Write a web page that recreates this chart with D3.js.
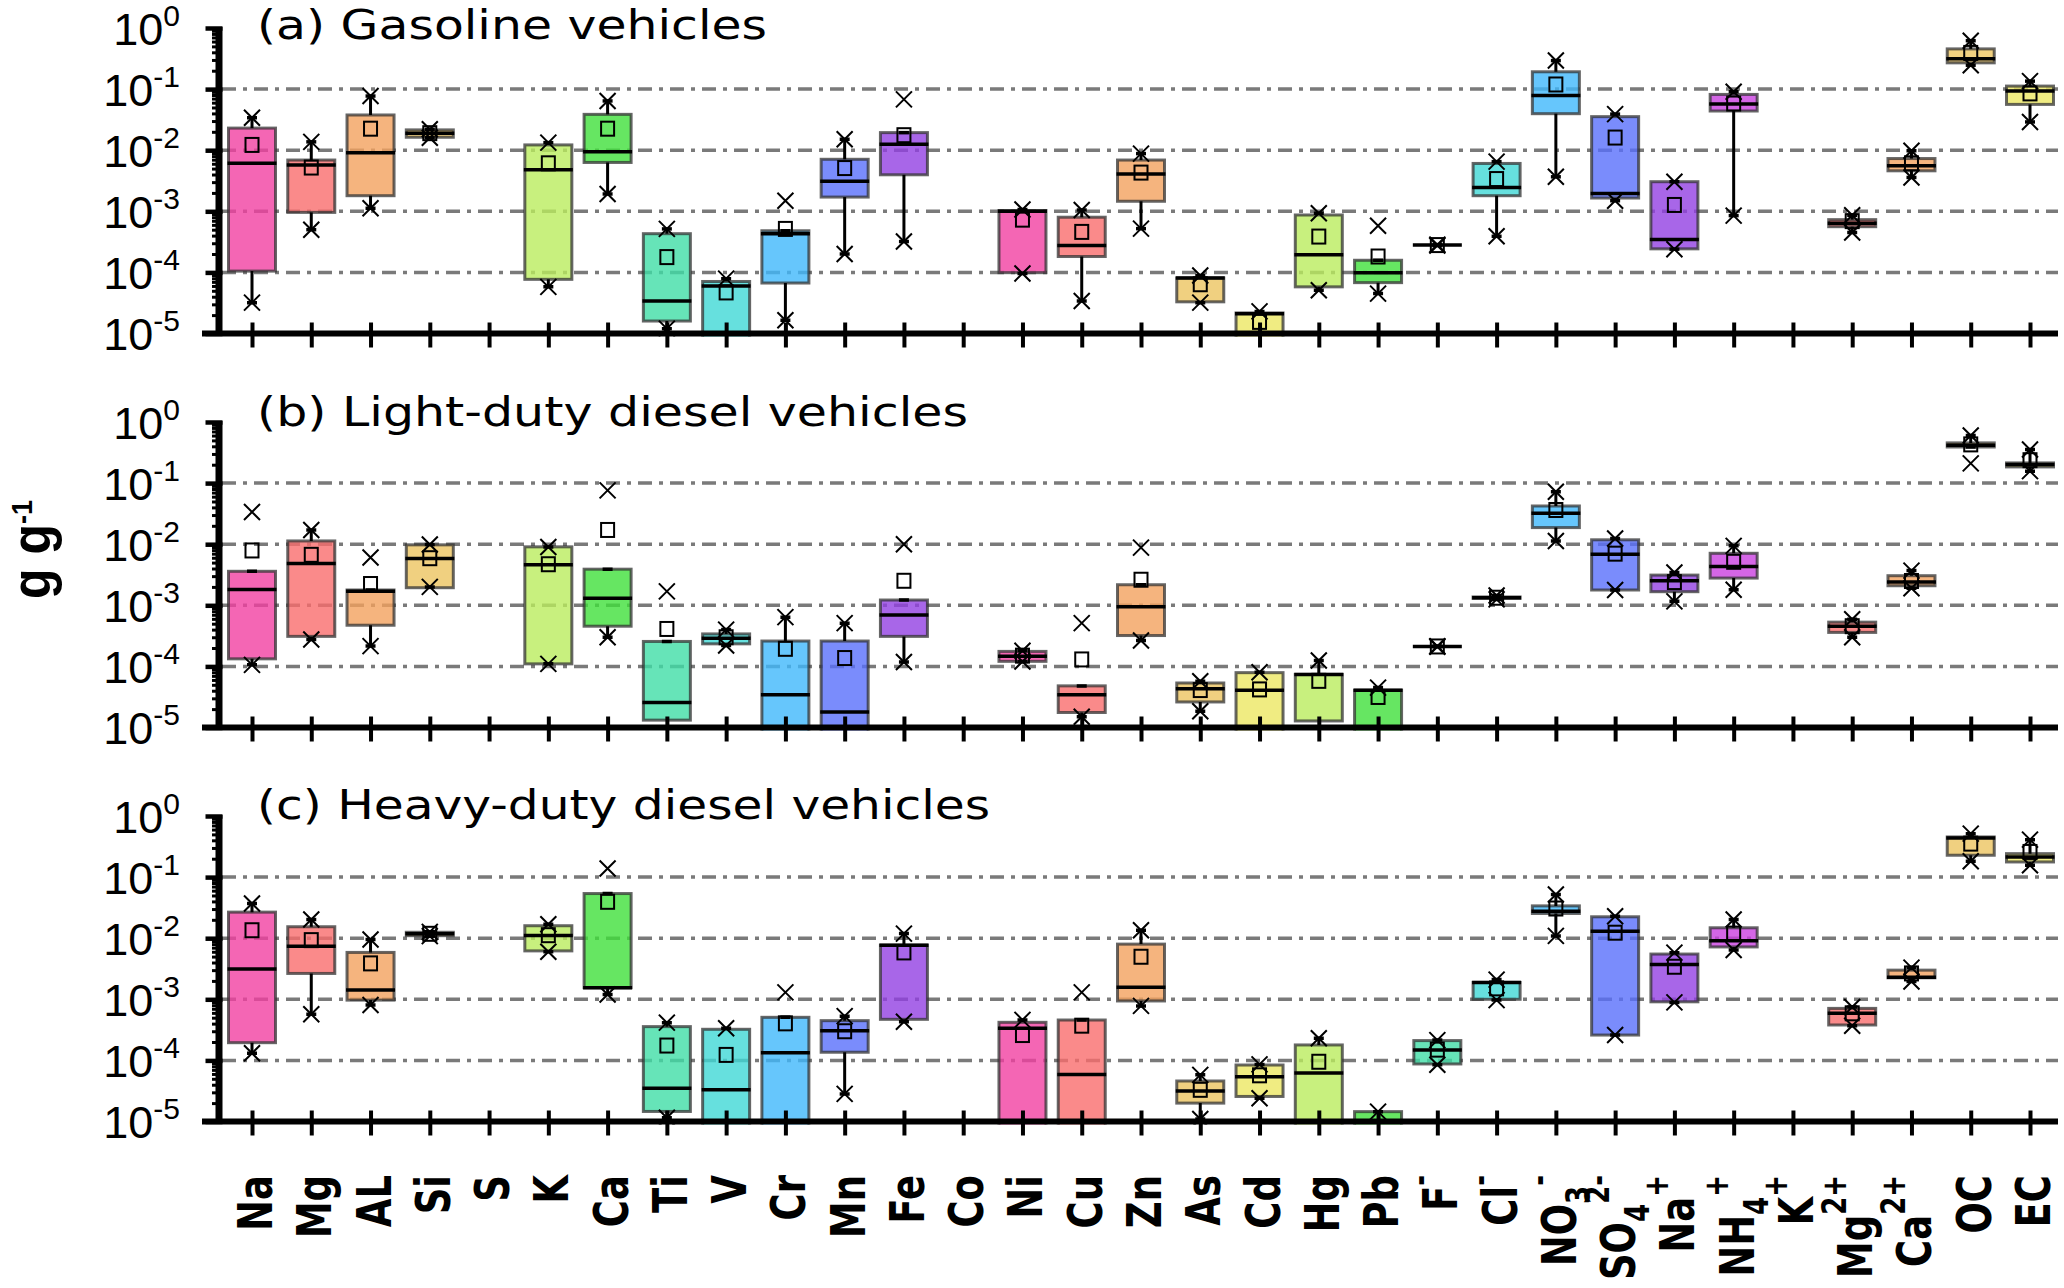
<!DOCTYPE html>
<html>
<head>
<meta charset="utf-8">
<script src="https://cdn.jsdelivr.net/npm/d3@7"></script>
<style>
  body { margin: 0; background: #fff; }
  svg { display: block; }
</style>
</head>
<body>
<svg id="chart" width="2064" height="1288"></svg>
<script>
// species along the x axis
const categories = ["Na","Mg","AL","Si","S","K","Ca","Ti","V","Cr","Mn","Fe","Co","Ni","Cu","Zn","As","Cd","Hg","Pb",
  "F-","Cl-","NO3-","SO42-","Na+","NH4+","K+","Mg2+","Ca2+","OC","EC"];
const labelMain = ["Na","Mg","AL","Si","S","K","Ca","Ti","V","Cr","Mn","Fe","Co","Ni","Cu","Zn","As","Cd","Hg","Pb",
  "F","Cl","NO","SO","Na","NH","K","Mg","Ca","OC","EC"];
const labelSub = ["","","","","","","","","","","","","","","","","","","","","","","3","4","","4","","","","",""];
const labelSup = ["","","","","","","","","","","","","","","","","","","","","-","-","-","2-","+","+","+","2+","2+","",""];

const panelTitles = ["(a) Gasoline vehicles", "(b) Light-duty diesel vehicles", "(c) Heavy-duty diesel vehicles"];
const decades = [1, 1e-1, 1e-2, 1e-3, 1e-4, 1e-5];
const decadeLabels = ["0", "-1", "-2", "-3", "-4", "-5"];
const gridValues = [1e-1, 1e-2, 1e-3, 1e-4];

// (a) gasoline vehicles
const gasQ1 = [1.05e-4, 9.6e-4, 1.8e-3, 0.0163, null, 7.7e-5, 6.3e-3, 1.6e-5, 5e-6, 6.7e-5, 1.71e-3, 3.96e-3, null, 9.9e-5, 1.82e-4, 1.46e-3, 3.3e-5, 5e-6, 5.8e-5, 6.8e-5, 2.8e-4, 1.8e-3, 0.0396, 1.65e-3, 2.43e-4, 0.0438, null, 5.6e-4, 4.6e-3, 0.269, 0.0562];
const gasMed = [6.1e-3, 5.7e-3, 9.05e-3, 0.0189, null, 4.8e-3, 9.4e-3, 3.4e-5, 6e-5, 4.3e-4, 3.09e-3, 0.0125, null, 1.0e-3, 2.75e-4, 4.06e-3, 8.1e-5, 2.1e-5, 1.94e-4, 9.9e-5, 2.8e-4, 2.46e-3, 0.0788, 1.96e-3, 3.45e-4, 0.0569, null, 6.4e-4, 5.55e-3, 0.313, 0.0927];
const gasQ3 = [0.023, 6.9e-3, 0.0377, 0.0215, null, 0.0122, 0.0386, 4.3e-4, 7.1e-5, 4.8e-4, 7.1e-3, 0.0194, null, 1.03e-3, 8e-4, 6.9e-3, 8.1e-5, 2.17e-5, 8.7e-4, 1.58e-4, 2.8e-4, 6.07e-3, 0.192, 0.0354, 3.05e-3, 0.0818, null, 7.3e-4, 7.3e-3, 0.455, 0.112];
const gasMean = [0.0122, 5.2e-3, 0.0225, 0.019, null, 6.1e-3, 0.0225, 1.78e-4, 4.7e-5, 5.15e-4, 5.1e-3, 0.0176, null, 7.3e-4, 4.6e-4, 4.3e-3, 6.4e-5, 1.55e-5, 3.86e-4, 1.82e-4, 2.8e-4, 3.37e-3, 0.119, 0.0161, 1.27e-3, 0.058, null, 6.9e-4, 6.1e-3, 0.391, 0.085];
const gasMin = [3.2e-5, 5e-4, 1.12e-3, 0.016, null, 5.8e-5, 1.92e-3, 1.2e-5, null, 1.65e-5, 2.0e-4, 3.2e-4, null, 9.6e-5, 3.4e-5, 5.2e-4, 3.2e-5, null, 5.1e-5, 4.5e-5, 2.75e-4, 3.9e-4, 3.67e-3, 1.49e-3, 2.4e-4, 8.5e-4, null, 4.5e-4, 3.58e-3, 0.246, 0.029];
const gasMax = [0.034, 0.0137, 0.077, 0.022, null, 0.0133, 0.064, 5.15e-4, 7.9e-5, 1.49e-3, 0.0151, 0.068, null, 1.07e-3, 1.05e-3, 8.8e-3, 8.9e-5, 2.3e-5, 9.3e-4, 5.8e-4, 2.85e-4, 6.5e-3, 0.293, 0.039, 3.05e-3, 0.0905, null, 8.6e-4, 9.8e-3, 0.62, 0.135];
const gasOutHi = ["Cr", "Fe", "Pb"];
const gasOutLo = [];

// (b) light-duty diesel vehicles
const ldvQ1 = [1.33e-4, 3.1e-4, 4.72e-4, 1.94e-3, null, 1.1e-4, 4.55e-4, 1.32e-5, 2.34e-4, 5e-6, 5e-6, 3.1e-4, null, 1.21e-4, 1.76e-5, 3.2e-4, 2.62e-5, 5e-6, 1.28e-5, 5e-6, 2.12e-4, 1.3e-3, 0.0187, 1.78e-3, 1.67e-3, 2.79e-3, null, 3.6e-4, 2.09e-3, 0.39, 0.184];
const ldvMed = [1.82e-3, 4.84e-3, 1.7e-3, 5.83e-3, null, 4.6e-3, 1.3e-3, 2.56e-5, 2.9e-4, 3.45e-5, 1.8e-5, 6.95e-4, null, 1.46e-4, 3.45e-5, 9.5e-4, 4.3e-5, 4.06e-5, 7.4e-5, 4.07e-5, 2.12e-4, 1.33e-3, 0.032, 6.87e-3, 2.52e-3, 4.3e-3, null, 4.55e-4, 2.4e-3, 0.417, 0.201];
const ldvQ3 = [3.6e-3, 0.0113, 1.78e-3, 9.76e-3, null, 9.05e-3, 3.9e-3, 2.56e-4, 3.4e-4, 2.6e-4, 2.6e-4, 1.22e-3, null, 1.76e-4, 4.8e-5, 2.17e-3, 5.35e-5, 7.9e-5, 7.4e-5, 4.07e-5, 2.12e-4, 1.37e-3, 0.0422, 0.0118, 3.12e-3, 7.1e-3, null, 5.3e-4, 3.05e-3, 0.455, 0.214];
const ldvMean = [7.9e-3, 6.7e-3, 2.23e-3, 5.9e-3, null, 4.7e-3, 0.0171, 4.1e-4, 3.0e-4, 1.94e-4, 1.37e-4, 2.52e-3, null, 1.5e-4, 1.3e-4, 2.62e-3, 4.1e-5, 4.2e-5, 5.8e-5, 3.16e-5, 2.12e-4, 1.33e-3, 0.0363, 7e-3, 2.4e-3, 5.15e-3, null, 4.55e-4, 2.5e-3, 0.43, 0.237];
const ldvMin = [1.06e-4, 2.75e-4, 2.15e-4, 2e-3, null, 1.1e-4, 3.0e-4, null, 2.2e-4, null, null, 1.18e-4, null, 1.2e-4, 1.5e-5, 2.65e-4, 1.85e-5, null, null, null, 2.1e-4, 1.25e-3, 0.0113, 1.78e-3, 1.16e-3, 1.8e-3, null, 3.0e-4, 1.9e-3, 0.21, 0.157];
const ldvMax = [0.0337, 0.0171, 6.07e-3, 9.9e-3, null, 9e-3, 0.076, 1.69e-3, 4.0e-4, 6.4e-4, 5.1e-4, 0.01, null, 1.8e-4, 5.1e-4, 8.8e-3, 5.7e-5, 8e-5, 1.25e-4, 4.5e-5, 2.15e-4, 1.45e-3, 0.072, 0.0124, 3.45e-3, 9.4e-3, null, 5.9e-4, 3.7e-3, 0.6, 0.354];
const ldvOutHi = ["Na", "AL", "Ca", "Ti", "Fe", "Cu", "Zn"];
const ldvOutLo = ["OC"];

// (c) heavy-duty diesel vehicles
const hdvQ1 = [1.95e-4, 2.65e-3, 9.7e-4, 0.011, null, 6.2e-3, 1.55e-3, 1.46e-5, 5e-6, 5e-6, 1.36e-4, 4.7e-4, null, 5e-6, 5e-6, 9.4e-4, 2e-5, 2.57e-5, 5e-6, 5e-6, 8.75e-5, 1.0e-3, 0.0254, 2.6e-4, 9.1e-4, 7.2e-3, null, 3.8e-4, 2.25e-3, 0.228, 0.177];
const hdvMed = [3.12e-3, 7.4e-3, 1.42e-3, 0.0118, null, 0.0111, 1.55e-3, 3.5e-5, 3.3e-5, 1.34e-4, 3.07e-4, 7.7e-3, null, 3.35e-4, 5.9e-5, 1.57e-3, 3.17e-5, 5.4e-5, 6.2e-5, null, 1.48e-4, 1.89e-3, 0.0277, 0.013, 3.72e-3, 9.06e-3, null, 5.9e-4, 2.3e-3, 0.437, 0.214];
const hdvQ3 = [0.0267, 0.0154, 5.85e-3, 0.0125, null, 0.016, 0.0538, 3.57e-4, 3.23e-4, 5.07e-4, 4.47e-4, 7.7e-3, null, 4.2e-4, 4.58e-4, 8e-3, 4.6e-5, 8.4e-5, 1.79e-4, 1.45e-5, 2.11e-4, 1.89e-3, 0.0338, 0.0224, 5.5e-3, 0.0148, null, 7.1e-4, 3.0e-3, 0.454, 0.242];
const hdvMean = [0.0135, 9.3e-3, 3.87e-3, 0.0118, null, 0.0112, 0.0394, 1.75e-4, 1.23e-4, 4.04e-4, 3e-4, 5.85e-3, null, 2.6e-4, 3.7e-4, 4.97e-3, 3.3e-5, 5.7e-5, 9.5e-5, null, 1.5e-4, 1.51e-3, 0.0306, 0.0123, 3.41e-3, 0.0119, null, 5.9e-4, 2.65e-3, 0.353, 0.258];
const hdvMin = [1.31e-4, 5.7e-4, 8.05e-4, 0.0108, null, 6.0e-3, 1.2e-3, 1.15e-5, null, null, 2.83e-5, 4.3e-4, null, null, null, 7.8e-4, 1.1e-5, 2.4e-5, null, null, 8.5e-5, 9.7e-4, 0.0109, 2.6e-4, 8.9e-4, 6.4e-3, null, 3.7e-4, 1.95e-3, 0.182, 0.156];
const hdvMax = [0.037, 0.0202, 9.5e-3, 0.0127, null, 0.0169, 0.138, 4.15e-4, 3.35e-4, 1.3e-3, 5.3e-4, 0.0119, null, 4.6e-4, 1.3e-3, 0.0135, 5.8e-5, 8.6e-5, 2.3e-4, 1.45e-5, 2.15e-4, 2.1e-3, 0.0519, 0.0229, 5.8e-3, 0.0202, null, 7.5e-4, 3.3e-3, 0.514, 0.41];
const hdvOutHi = ["Ca", "Cr", "Cu"];
const hdvOutLo = [];

// box colours repeat every 13 species
const palette = ["#f466b4", "#fa8a8a", "#f5b47e", "#f0d080", "#f0ec82", "#c8f07e", "#66e662",
  "#66e4b8", "#66e0de", "#66c6fc", "#7a8cfc", "#a866e8", "#d466e6"];

const panels = [
  {q1: gasQ1, med: gasMed, q3: gasQ3, mean: gasMean, min: gasMin, max: gasMax, outHi: gasOutHi, outLo: gasOutLo},
  {q1: ldvQ1, med: ldvMed, q3: ldvQ3, mean: ldvMean, min: ldvMin, max: ldvMax, outHi: ldvOutHi, outLo: ldvOutLo},
  {q1: hdvQ1, med: hdvMed, q3: hdvQ3, mean: hdvMean, min: hdvMin, max: hdvMax, outHi: hdvOutHi, outLo: hdvOutLo}
];

// layout
const axisX = 219, axisRight = 2058;
const panelTop = [28, 422, 816], panelH = 305.5;
const titleWidth = [510, 711, 733];
const boxW = 47, fillAlpha = 0.8;

const svg = d3.select("#chart");
const x = d3.scalePoint().domain(categories).range([252, 2030]);

// undo the white blend so the translucent box shows the observed colour
function boxFill(c) {
  let o = d3.rgb(c);
  let f = v => Math.max(0, Math.min(255, (v - 255 * (1 - fillAlpha)) / fillAlpha));
  return d3.rgb(f(o.r), f(o.g), f(o.b)).formatHex();
}

panels.forEach(function(p, pi) {
  let top = panelTop[pi], bottom = top + panelH;
  let y = d3.scaleLog().domain([1e-5, 1]).range([bottom, top]);
  let g = svg.append("g");

  let clipId = "clip" + pi;
  svg.append("clipPath").attr("id", clipId)
    .append("rect")
      .attr("x", axisX).attr("y", top - 40)
      .attr("width", axisRight - axisX).attr("height", panelH + 43);

  // dash-dot grid
  g.append("g").selectAll("line")
    .data(gridValues)
    .join("line")
      .attr("x1", axisX + 3).attr("x2", axisRight)
      .attr("y1", d => y(d)).attr("y2", d => y(d))
      .attr("stroke", "#7a7a7a").attr("stroke-width", 3.5)
      .attr("stroke-dasharray", "14,7,4,7");

  let rows = categories.map((c, i) => ({
    c: c, i: i, q1: p.q1[i], med: p.med[i], q3: p.q3[i], mean: p.mean[i], min: p.min[i], max: p.max[i]
  })).filter(d => d.q3 != null);

  let plot = g.append("g").attr("clip-path", "url(#" + clipId + ")");

  // boxes
  plot.selectAll("rect.box")
    .data(rows)
    .join("rect")
      .attr("class", "box")
      .attr("x", d => x(d.c) - boxW / 2)
      .attr("y", d => y(d.q3))
      .attr("width", boxW)
      .attr("height", d => Math.max(0, y(d.q1) - y(d.q3)))
      .attr("fill", d => boxFill(palette[d.i % palette.length]))
      .attr("fill-opacity", fillAlpha)
      .attr("stroke", "#333").attr("stroke-opacity", 0.75).attr("stroke-width", 3);

  // whiskers: to the extreme marker, or only a cap at the box edge if the marker lies apart
  let whiskers = [];
  rows.forEach(function(d) {
    if (d.max != null) {
      let end = p.outHi.includes(d.c) ? d.q3 : d.max;
      whiskers.push({c: d.c, from: d.q3, to: end});
    }
    if (d.min != null) {
      let end = p.outLo.includes(d.c) ? d.q1 : d.min;
      whiskers.push({c: d.c, from: d.q1, to: end});
    }
  });
  plot.selectAll("line.whisker")
    .data(whiskers)
    .join("line")
      .attr("class", "whisker")
      .attr("x1", d => x(d.c)).attr("x2", d => x(d.c))
      .attr("y1", d => y(d.from)).attr("y2", d => y(d.to))
      .attr("stroke", "#000").attr("stroke-width", 3);
  plot.selectAll("line.cap")
    .data(whiskers)
    .join("line")
      .attr("class", "cap")
      .attr("x1", d => x(d.c) - 5).attr("x2", d => x(d.c) + 5)
      .attr("y1", d => y(d.to)).attr("y2", d => y(d.to))
      .attr("stroke", "#000").attr("stroke-width", 3.5);

  // medians
  plot.selectAll("line.median")
    .data(rows.filter(d => d.med != null))
    .join("line")
      .attr("class", "median")
      .attr("x1", d => x(d.c) - boxW / 2 - 1).attr("x2", d => x(d.c) + boxW / 2 + 1)
      .attr("y1", d => y(d.med)).attr("y2", d => y(d.med))
      .attr("stroke", "#000").attr("stroke-width", 3.5);

  // means
  plot.selectAll("rect.mean")
    .data(rows.filter(d => d.mean != null))
    .join("rect")
      .attr("class", "mean")
      .attr("x", d => x(d.c) - 6.5).attr("y", d => y(d.mean) - 7)
      .attr("width", 13).attr("height", 14)
      .attr("fill", "none").attr("stroke", "#000").attr("stroke-width", 2);

  // min / max crosses
  let extremes = [];
  rows.forEach(function(d) {
    if (d.max != null) extremes.push({c: d.c, v: d.max});
    if (d.min != null) extremes.push({c: d.c, v: d.min});
  });
  plot.selectAll("path.extreme")
    .data(extremes)
    .join("path")
      .attr("class", "extreme")
      .attr("transform", d => "translate(" + x(d.c) + "," + y(d.v) + ")")
      .attr("d", "M-8,-8L8,8M-8,8L8,-8")
      .attr("fill", "none").attr("stroke", "#000").attr("stroke-width", 2);

  // y axis: decade ticks, minor ticks, own thick spine
  let minors = [];
  for (let e = -5; e < 0; e++) {
    for (let m = 2; m <= 9; m++) minors.push(m * Math.pow(10, e));
  }
  let yMajor = g.append("g")
    .attr("transform", "translate(" + (axisX + 3.5) + ",0)")
    .call(d3.axisLeft(y).tickValues(decades).tickSize(17).tickSizeOuter(0).tickFormat(""));
  yMajor.select(".domain").remove();
  yMajor.selectAll(".tick line").attr("stroke", "#000").attr("stroke-width", 4.5);

  let yMinor = g.append("g")
    .attr("transform", "translate(" + (axisX + 1) + ",0)")
    .call(d3.axisLeft(y).tickValues(minors).tickSize(8).tickSizeOuter(0).tickFormat(""));
  yMinor.select(".domain").remove();
  yMinor.selectAll(".tick line").attr("stroke", "#000").attr("stroke-width", 3);

  g.append("line")
    .attr("x1", axisX).attr("x2", axisX)
    .attr("y1", top - 1).attr("y2", bottom)
    .attr("stroke", "#000").attr("stroke-width", 7);

  // y tick labels 10^n
  let yl = g.append("g").selectAll("text")
    .data(decades)
    .join("text")
      .attr("x", 180)
      .attr("y", d => y(d) + 16.5)
      .attr("text-anchor", "end")
      .style("font-family", "'Liberation Sans', Arial, sans-serif")
      .style("font-size", "45px");
  yl.append("tspan").text("10");
  yl.append("tspan")
    .attr("dy", -19)
    .style("font-size", "30px")
    .text((d, i) => decadeLabels[i]);

  // x axis with ticks crossing the spine
  let xa = g.append("g")
    .attr("transform", "translate(0," + bottom + ")")
    .call(d3.axisBottom(x).tickSize(14).tickSizeOuter(0).tickFormat(""));
  xa.select(".domain").remove();
  xa.selectAll(".tick line").attr("y1", -11).attr("stroke", "#000").attr("stroke-width", 4);
  g.append("line")
    .attr("x1", axisX - 17).attr("x2", axisRight)
    .attr("y1", bottom).attr("y2", bottom)
    .attr("stroke", "#000").attr("stroke-width", 6);

  // panel title
  g.append("text")
    .attr("x", 257)
    .attr("y", top + [11, 4, 3][pi])
    .attr("textLength", titleWidth[pi])
    .attr("lengthAdjust", "spacingAndGlyphs")
    .style("font-family", "'DejaVu Sans', sans-serif")
    .style("font-size", "41px")
    .text(panelTitles[pi]);
});

// species labels under the last panel
let xl = svg.append("g").selectAll("text")
  .data(categories)
  .join("text")
    .attr("transform", d => "translate(" + (x(d) + 20) + ",1175) rotate(-90) scale(1,1.3)")
    .attr("text-anchor", "end")
    .style("font-family", "'DejaVu Sans', sans-serif")
    .style("font-weight", "bold")
    .style("font-size", "37px");
xl.append("tspan").text((d, i) => labelMain[i]);
xl.append("tspan")
  .attr("dy", (d, i) => labelSub[i] ? 11 : 0)
  .style("font-size", "26px")
  .text((d, i) => labelSub[i]);
xl.append("tspan")
  .attr("dy", (d, i) => labelSup[i] ? (labelSub[i] ? -31 : -20) : 0)
  .style("font-size", "26px")
  .text((d, i) => labelSup[i]);

// y axis title
let yt = svg.append("text")
  .attr("transform", "translate(50,599) rotate(-90) scale(1,1.1)")
  .attr("text-anchor", "start")
  .style("font-family", "'Liberation Sans', Arial, sans-serif")
  .style("font-weight", "bold")
  .style("font-size", "50px");
yt.append("tspan").text("g g");
yt.append("tspan").attr("dy", -16).style("font-size", "27px").text("-1");
</script>
</body>
</html>
